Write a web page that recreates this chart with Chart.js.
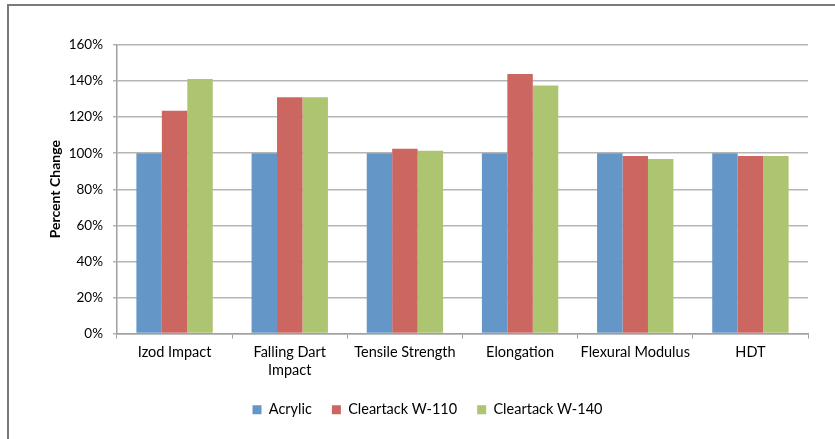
<!DOCTYPE html>
<html>
<head>
<meta charset="utf-8">
<script src="https://cdn.jsdelivr.net/npm/chart.js@4.4.1/dist/chart.umd.min.js"></script>
<style>
  html, body { margin: 0; padding: 0; background: #fff; overflow: hidden; }
  #frame { position: absolute; left: 7px; top: 4px; width: 900px; height: 500px; border: 2px solid #7a7a7a; box-sizing: border-box; }
  #wrap { position: absolute; left: 0; top: 0; width: 835px; height: 439px; }
</style>
</head>
<body>
<div id="frame"></div>
<div id="wrap"><canvas id="c" width="835" height="439"></canvas></div>
<script>
const categories = ["Izod Impact", ["Falling Dart", "Impact"], "Tensile Strength", "Elongation", "Flexural Modulus", "HDT"];
const seriesNames = ["Acrylic", "Cleartack W-110", "Cleartack W-140"];
const acrylic = [100, 100, 100, 100, 100, 100];
const w110 = [123.5, 131, 102.4, 143.9, 98.5, 98.5];
const w140 = [141.1, 131, 101.3, 137.6, 96.8, 98.5];
const yTicks = [0, 20, 40, 60, 80, 100, 120, 140, 160];

const colors = ["#6496c8", "#cc6661", "#adc470"];
const family = "Lato, 'Open Sans', sans-serif";

new Chart(document.getElementById('c'), {
  type: 'bar',
  data: {
    labels: categories,
    datasets: [acrylic, w110, w140].map((d, i) => ({
      label: seriesNames[i],
      data: d,
      backgroundColor: colors[i],
      borderWidth: 0,
      barPercentage: 1,
      categoryPercentage: 0.663
    }))
  },
  options: {
    responsive: false,
    animation: false,
    layout: { padding: { left: 47, right: 27, top: 45, bottom: 12 } },
    plugins: {
      tooltip: { enabled: false },
      legend: {
        position: 'bottom',
        labels: {
          boxWidth: 9, boxHeight: 9, padding: 20,
          color: '#000', font: { family: family, size: 14.5 }
        }
      }
    },
    scales: {
      x: {
        grid: { drawOnChartArea: false, drawTicks: true, tickLength: 5, color: '#a0a0a0', lineWidth: 1 },
        border: { color: '#a0a0a0', width: 1.5 },
        ticks: { color: '#000', font: { family: family, size: 14.5, lineHeight: 1.3 }, padding: 4, maxRotation: 0, autoSkip: false },
        afterFit: s => { s.height = 49; }
      },
      y: {
        min: 0, max: 160,
        afterBuildTicks: s => { s.ticks = yTicks.map(v => ({ value: v })); },
        grid: { color: '#b5b5b5', lineWidth: 1.5, tickLength: 4, drawTicks: true },
        border: { color: '#a0a0a0', width: 1.5 },
        ticks: { color: '#000', font: { family: family, size: 13.5 }, padding: 10, callback: v => v + '%' },
        title: { display: true, text: 'Percent Change', color: '#000', font: { family: family, size: 14, weight: 'bold' }, padding: { top: 0, bottom: 6 } },
        afterFit: s => { s.width = 70; }
      }
    }
  }
});
</script>
</body>
</html>
